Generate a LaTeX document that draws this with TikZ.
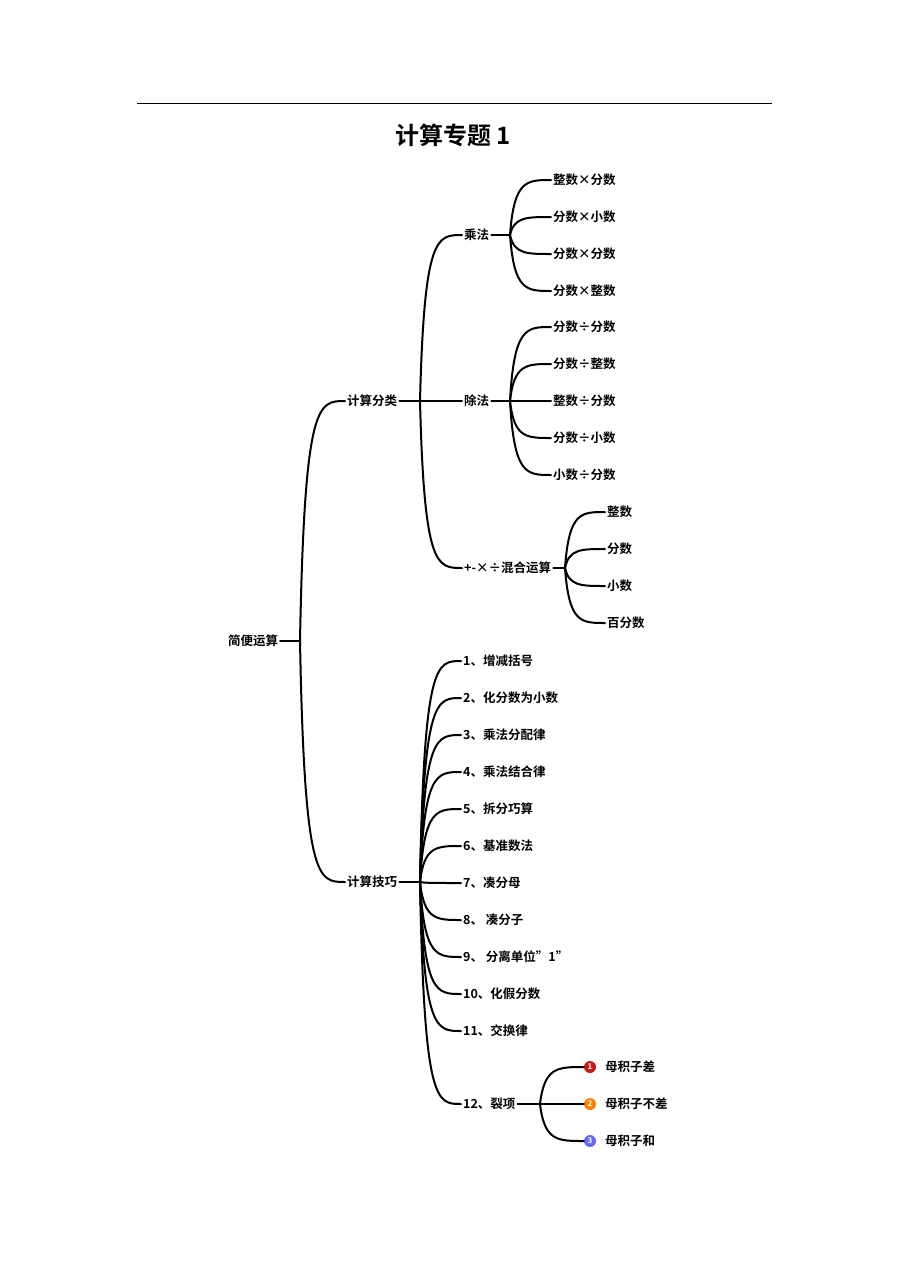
\documentclass[tikz,border=0pt]{standalone}
\usepackage{fontspec}
\setmainfont{Noto Sans CJK SC}[BoldFont={* Bold}]
\usetikzlibrary{calc}

\newcommand\brn[2]{\draw[link] let \p1=(#1), \p2=(#2.west) in
  (\p1) .. controls ({\x1+0.1*(\x2-\x1)},\y2) and ({\x1+0.4*(\x2-\x1)},\y2) .. (\p2);}

\begin{document}
\begin{tikzpicture}[x=1pt,y=-1pt,
  link/.style={line width=2pt,line cap=round},
  main node/.style={font=\bfseries\fontsize{12.5}{14}\selectfont,inner sep=2pt},
  leaf/.style={main node,anchor=west},
  num/.style={circle,inner sep=0pt,minimum size=12pt,fill=#1,text=white,
    font=\bfseries\fontsize{8}{9}\selectfont}]
 \useasboundingbox (0,0) rectangle (909,1286);

 \draw[line width=1pt] (137,103) -- (772,103);
 \node[font=\bfseries\fontsize{24}{28}\selectfont] (title) at (453,135) {计算专题 1};

 % root and first level
 \node[main node] (root) at (253,641) {简便运算};
 \coordinate (j0) at (300,641);
 \draw[link] (root.east) -- (j0);
 \node[leaf] (fl) at (345,401) {计算分类};
 \node[leaf] (jq) at (345,882) {计算技巧};
 \brn{j0}{fl}
 \brn{j0}{jq}

 % 计算分类
 \coordinate (j1) at (420,401);
 \draw[link] (fl.east) -- (j1);
 \node[leaf] (cf) at (462,235) {乘法};
 \node[leaf] (chu) at (462,401) {除法};
 \node[leaf] (hh) at (462,568) {+-×÷混合运算};
 \brn{j1}{cf}
 \brn{j1}{chu}
 \brn{j1}{hh}

 \coordinate (j2) at (510,235);
 \draw[link] (cf.east) -- (j2);
 \foreach \t [count=\i] in {整数×分数,分数×小数,分数×分数,分数×整数}{
   \node[leaf] (cf\i) at (551,143+37*\i) {\t};
   \brn{j2}{cf\i}
 }

 \coordinate (j3) at (510,401);
 \draw[link] (chu.east) -- (j3);
 \foreach \t [count=\i] in {分数÷分数,分数÷整数,整数÷分数,分数÷小数,小数÷分数}{
   \node[leaf] (chu\i) at (551,290+37*\i) {\t};
   \brn{j3}{chu\i}
 }

 \coordinate (j4) at (565,568);
 \draw[link] (hh.east) -- (j4);
 \foreach \t [count=\i] in {整数,分数,小数,百分数}{
   \node[leaf] (hh\i) at (605,475+37*\i) {\t};
   \brn{j4}{hh\i}
 }

 % 计算技巧
 \coordinate (j5) at (420,882);
 \draw[link] (jq.east) -- (j5);
 \foreach \t [count=\i] in {1、增减括号,2、化分数为小数,3、乘法分配律,4、乘法结合律,
   5、拆分巧算,6、基准数法,7、凑分母,8、 凑分子,9、 分离单位"1",10、化假分数,11、交换律}{
   \node[leaf] (jq\i) at (461,624+37*\i) {\t};
   \brn{j5}{jq\i}
 }
 \node[leaf] (lx) at (461,1104) {12、裂项};
 \brn{j5}{lx}

 \coordinate (j6) at (540,1104);
 \draw[link] (lx.east) -- (j6);
 \foreach \t/\c [count=\i] in {母积子差/red!75!black!90,母积子不差/orange,母积子和/blue!60}{
   \node[num=\c] (n\i) at (590,1030+37*\i) {\i};
   \node[leaf] (lx\i) at (603,1030+37*\i) {\t};
   \brn{j6}{n\i}
 }
\end{tikzpicture}
\end{document}
